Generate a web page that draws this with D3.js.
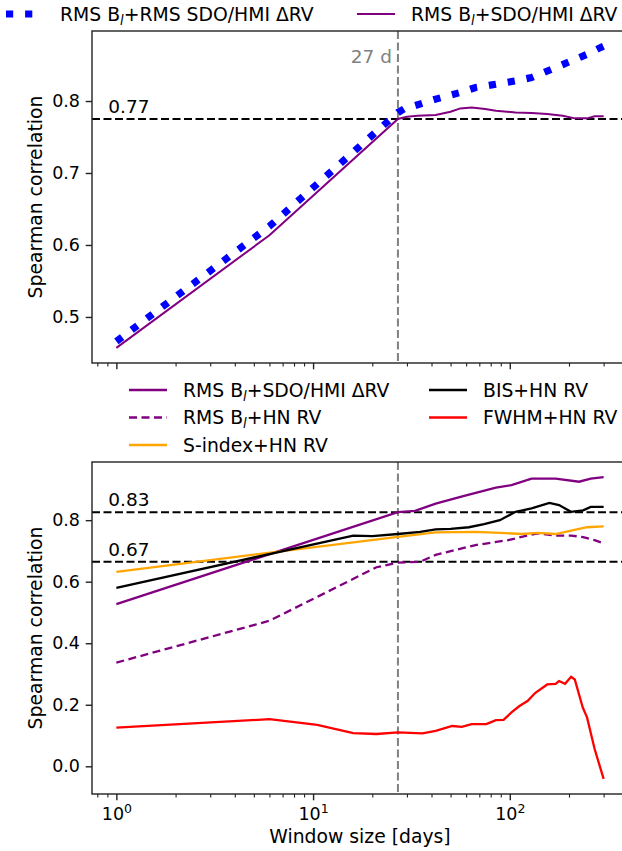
<!DOCTYPE html>
<html>
<head>
  <title>Spearman correlation vs window size</title>
  <script src="https://d3js.org/d3.v7.min.js"></script>
  <style>
    body { margin: 0; background: #fff; }
    text { font-family: "DejaVu Sans", sans-serif; fill: #000; }
    .line { fill: none; }
  </style>
</head>
<body>
  <svg id="chart" width="622" height="851"></svg>

  <script>
    // top panel data
    var topBlueX = [1, 6, 27, 29, 42, 56, 67, 85, 107, 129, 163, 205, 247, 290, 300];
    var topBlueY = [0.466, 0.626, 0.784, 0.789, 0.8026, 0.8118, 0.8187, 0.8233, 0.8279, 0.8326, 0.844, 0.8556, 0.8648, 0.8745, 0.8763];

    var topPurpleX = [1, 6, 27, 30, 34, 42, 50, 56, 64, 75, 85, 107, 129, 155, 186, 214, 247, 270, 300];
    var topPurpleY = [0.457, 0.6135, 0.775, 0.778, 0.7795, 0.7805, 0.785, 0.7897, 0.791, 0.789, 0.7865, 0.7842, 0.7833, 0.7819, 0.7796, 0.7759, 0.7759, 0.7787, 0.7787];

    // bottom panel data
    var sdoX = [1, 27, 33, 42, 58, 85, 102, 129, 171, 225, 258, 300];
    var sdoY = [0.527, 0.826, 0.830, 0.854, 0.878, 0.906, 0.914, 0.935, 0.935, 0.925, 0.935, 0.940];

    var hnX = [1, 6, 21, 27, 35, 42, 53, 67, 98, 123, 139, 171, 205, 236, 270, 300];
    var hnY = [0.337, 0.473, 0.647, 0.662, 0.665, 0.687, 0.703, 0.719, 0.735, 0.750, 0.757, 0.750, 0.750, 0.745, 0.735, 0.725];

    var sindexX = [1, 27, 42, 67, 89, 115, 139, 171, 205, 247, 300];
    var sindexY = [0.632, 0.746, 0.760, 0.762, 0.759, 0.755, 0.759, 0.755, 0.766, 0.777, 0.780];

    var bisX = [1, 16, 20, 27, 35, 42, 50, 62, 74, 89, 107, 129, 159, 178, 205, 236, 258, 300];
    var bisY = [0.58, 0.75, 0.748, 0.755, 0.762, 0.770, 0.772, 0.777, 0.787, 0.800, 0.827, 0.838, 0.856, 0.849, 0.827, 0.832, 0.843, 0.843];

    var fwhmX = [1, 6, 10.5, 16, 21, 27, 36, 42, 51, 57, 64, 76, 85, 93, 102, 112, 123, 135, 155, 171, 178, 191, 205, 214, 235, 247, 270, 300];
    var fwhmY = [0.126, 0.153, 0.135, 0.108, 0.105, 0.110, 0.107, 0.115, 0.131, 0.128, 0.137, 0.137, 0.150, 0.151, 0.175, 0.196, 0.212, 0.239, 0.266, 0.268, 0.277, 0.268, 0.291, 0.282, 0.191, 0.159, 0.056, -0.041];

    // reference lines
    var rotationDays = 27;
    var topRef = [0.775];
    var topRefLabels = ["0.77"];
    var bottomRef = [0.826, 0.665];
    var bottomRefLabels = ["0.83", "0.67"];

    var topTicks = [0.5, 0.6, 0.7, 0.8];
    var bottomTicks = [0.0, 0.2, 0.4, 0.6, 0.8];

    var zip = function(xs, ys) { return xs.map(function(x, i) { return { x: x, y: ys[i] }; }); };

    var topSeries = [
      { data: zip(topBlueX, topBlueY), color: "#0000ff", width: 7.2, dash: "7.2,11.9", label: "RMS B_l+RMS SDO/HMI ΔRV" },
      { data: zip(topPurpleX, topPurpleY), color: "#800080", width: 2, dash: null, label: "RMS B_l+SDO/HMI ΔRV" }
    ];
    var bottomSeries = [
      { data: zip(sdoX, sdoY), color: "#800080", width: 2.3, dash: null, label: "RMS B_l+SDO/HMI ΔRV" },
      { data: zip(hnX, hnY), color: "#800080", width: 2.3, dash: "8,4.5", label: "RMS B_l+HN RV" },
      { data: zip(sindexX, sindexY), color: "#ffa500", width: 2.3, dash: null, label: "S-index+HN RV" },
      { data: zip(bisX, bisY), color: "#000000", width: 2.3, dash: null, label: "BIS+HN RV" },
      { data: zip(fwhmX, fwhmY), color: "#ff0000", width: 2.3, dash: null, label: "FWHM+HN RV" }
    ];

    var svg = d3.select("#chart");
    svg.append("rect").attr("width", 622).attr("height", 851).attr("fill", "#fff");

    var left = 92, right = 628;

    // x: log scale with 5% margin like matplotlib
    var lx0 = Math.log10(d3.min(fwhmX)), lx1 = Math.log10(d3.max(fwhmX));
    var mx = 0.05 * (lx1 - lx0);
    var xScale = d3.scaleLog()
      .domain([Math.pow(10, lx0 - mx), Math.pow(10, lx1 + mx)])
      .range([left, right]);

    function padded(arrs) {
      var lo = d3.min(arrs, function(a) { return d3.min(a); });
      var hi = d3.max(arrs, function(a) { return d3.max(a); });
      var m = 0.05 * (hi - lo);
      return [lo - m, hi + m];
    }

    function setLabel(sel, label) {
      var parts = label.split("_l");
      sel.append("tspan").text(parts[0]);
      if (parts.length > 1) {
        sel.append("tspan").text("l").attr("font-size", "70%").attr("font-style", "italic").attr("dy", 4);
        sel.append("tspan").text(parts[1]).attr("dy", -4);
      }
    }

    function drawPanel(id, series, yDomain, top, bottom, yTicks, refs, refLabels, showX) {
      var yScale = d3.scaleLinear().domain(yDomain).range([bottom, top]);
      var g = svg.append("g");

      g.append("clipPath").attr("id", "clip" + id)
        .append("rect").attr("x", left).attr("y", top).attr("width", right - left).attr("height", bottom - top);

      // y axis
      var yAxis = d3.axisLeft(yScale).tickValues(yTicks).tickFormat(d3.format(".1f"))
        .tickSize(6.3).tickSizeOuter(0).tickPadding(5.7);
      var ya = g.append("g").attr("transform", "translate(" + left + ",0)").call(yAxis);
      ya.select(".domain").remove();
      ya.selectAll("line").attr("stroke", "#222").attr("stroke-width", 1.4);
      ya.selectAll("text").attr("font-size", "17.5px").attr("font-family", "DejaVu Sans");

      // x axis, minor then major ticks
      var allTicks = xScale.ticks();
      var major = allTicks.filter(function(d) { return Math.abs(Math.log10(d) - Math.round(Math.log10(d))) < 1e-9; });
      var minor = allTicks.filter(function(d) { return major.indexOf(d) < 0; });

      var xMinor = g.append("g").attr("transform", "translate(0," + bottom + ")")
        .call(d3.axisBottom(xScale).tickValues(minor).tickFormat("").tickSize(3.6).tickSizeOuter(0));
      xMinor.select(".domain").remove();
      xMinor.selectAll("line").attr("stroke", "#222").attr("stroke-width", 1.1);

      var xMajor = g.append("g").attr("transform", "translate(0," + bottom + ")")
        .call(d3.axisBottom(xScale).tickValues(major).tickFormat("").tickSize(6.3).tickSizeOuter(0).tickPadding(7));
      xMajor.select(".domain").remove();
      xMajor.selectAll("line").attr("stroke", "#222").attr("stroke-width", 1.4);
      if (showX) {
        xMajor.selectAll(".tick text").each(function(d) {
          var t = d3.select(this).attr("font-size", "17.5px").attr("font-family", "DejaVu Sans");
          t.append("tspan").text("10");
          t.append("tspan").text(Math.round(Math.log10(d))).attr("font-size", "12.5px").attr("dy", "-0.55em");
        });
      }

      // reference lines
      g.append("line")
        .attr("x1", xScale(rotationDays)).attr("x2", xScale(rotationDays))
        .attr("y1", top).attr("y2", bottom)
        .attr("stroke", "#808080").attr("stroke-width", 2).attr("stroke-dasharray", "8,3.5");

      refs.forEach(function(v, i) {
        g.append("line")
          .attr("x1", left).attr("x2", right)
          .attr("y1", yScale(v)).attr("y2", yScale(v))
          .attr("stroke", "#000").attr("stroke-width", 2).attr("stroke-dasharray", "8,3.5");
        g.append("text")
          .attr("x", xScale(0.91)).attr("y", yScale(v) - 6)
          .attr("font-size", "18.5px")
          .text(refLabels[i]);
      });

      // lines
      var line = d3.line()
        .x(function(d) { return xScale(d.x); })
        .y(function(d) { return yScale(d.y); });

      series.forEach(function(s) {
        g.append("path")
          .datum(s.data)
          .attr("class", "line")
          .attr("clip-path", "url(#clip" + id + ")")
          .attr("d", line)
          .attr("stroke", s.color)
          .attr("stroke-width", s.width)
          .attr("stroke-dasharray", s.dash);
      });

      // frame
      g.append("rect")
        .attr("x", left).attr("y", top).attr("width", right - left).attr("height", bottom - top)
        .attr("fill", "none").attr("stroke", "#222").attr("stroke-width", 1.4);

      // y label
      g.append("text")
        .attr("transform", "translate(41.5," + ((top + bottom) / 2) + ") rotate(-90)")
        .attr("text-anchor", "middle")
        .attr("font-size", "18.8px")
        .text("Spearman correlation");

      return yScale;
    }

    drawPanel("top", topSeries, padded([topBlueY, topPurpleY]), 31, 363, topTicks, topRef, topRefLabels, false);
    drawPanel("bot", bottomSeries, padded([sdoY, hnY, sindexY, bisY, fwhmY]), 462, 794, bottomTicks, bottomRef, bottomRefLabels, true);

    // 27 d label
    svg.append("text")
      .attr("x", xScale(rotationDays) - 6).attr("y", 63)
      .attr("text-anchor", "end")
      .attr("font-size", "18.5px")
      .style("fill", "#808080")
      .text(rotationDays + " d");

    // x label
    svg.append("text")
      .attr("x", (left + right) / 2).attr("y", 843)
      .attr("text-anchor", "middle")
      .attr("font-size", "18.8px")
      .text("Window size [days]");

    // legends
    function legendEntry(g, s, x, y) {
      g.append("line")
        .attr("x1", x).attr("x2", x + 38)
        .attr("y1", y).attr("y2", y)
        .attr("stroke", s.color)
        .attr("stroke-width", s.width)
        .attr("stroke-dasharray", s.dash);
      var t = g.append("text")
        .attr("x", x + 54).attr("y", y + 6.7)
        .attr("font-size", "18.8px");
      setLabel(t, s.label);
    }

    var legTop = svg.append("g");
    legendEntry(legTop, topSeries[0], 6, 14);
    legendEntry(legTop, topSeries[1], 357, 14);

    var legBot = svg.append("g");
    var legPos = [[129, 390], [129, 417.5], [129, 445], [429, 390], [429, 417.5]];
    bottomSeries.forEach(function(s, i) {
      legendEntry(legBot, s, legPos[i][0], legPos[i][1]);
    });
  </script>
</body>
</html>
